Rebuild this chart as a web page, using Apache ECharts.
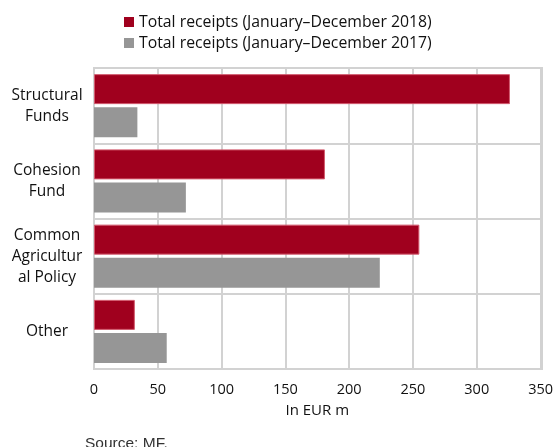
<!DOCTYPE html>
<html>
<head>
<meta charset="utf-8">
<script src="https://cdn.jsdelivr.net/npm/echarts@6/dist/echarts.min.js"></script>
<style>
  html, body { margin: 0; padding: 0; background: #fff; }
  #chart { width: 556px; height: 447px; }
</style>
</head>
<body>
<div id="chart"></div>
<script>
// EU fund receipts by programme, in EUR million
const categories = ['Structural\nFunds', 'Cohesion\nFund', 'Common\nAgricultur\nal Policy', 'Other'];
const receipts2018 = [326, 181, 255, 32];
const receipts2017 = [34, 72, 224, 57];
const seriesNames = ['Total receipts (January\u2013December 2018)', 'Total receipts (January\u2013December 2017)'];
const xTicks = { min: 0, max: 350, interval: 50 };

const RED = '#A0001E';
const GREY = '#969696';
const GRID = '#d2d2d2';

const chart = echarts.init(document.getElementById('chart'), null, { renderer: 'canvas' });
chart.setOption({
  animation: false,
  backgroundColor: '#fff',
  legend: {
    orient: 'vertical',
    left: 119,
    top: 8,
    itemWidth: 10,
    itemHeight: 10,
    itemGap: 3,
    icon: 'rect',
    itemStyle: { borderWidth: 0 },
    textStyle: { fontFamily: 'Open Sans', fontSize: 15.8, lineHeight: 18, color: '#111' },
    data: seriesNames
  },
  grid: { left: 94, right: 14, top: 68, bottom: 78, containLabel: false },
  xAxis: {
    type: 'value',
    min: xTicks.min,
    max: xTicks.max,
    interval: xTicks.interval,
    name: 'In EUR m',
    nameLocation: 'middle',
    nameGap: 34,
    nameTextStyle: { fontFamily: 'Open Sans', fontSize: 15, color: '#111' },
    axisLine: { show: true, lineStyle: { color: GRID, width: 2 } },
    axisTick: { show: false },
    axisLabel: { fontFamily: 'Open Sans', fontSize: 14.5, color: '#111', margin: 13 },
    splitLine: { show: true, lineStyle: { color: GRID, width: 2 } }
  },
  yAxis: {
    type: 'category',
    inverse: true,
    data: categories,
    axisLine: { show: true, lineStyle: { color: GRID, width: 2 } },
    axisTick: { show: false },
    splitLine: { show: true, lineStyle: { color: GRID, width: 2 } },
    axisLabel: {
      fontFamily: 'Open Sans',
      fontSize: 15.5,
      color: '#111',
      align: 'center',
      margin: 47,
      lineHeight: 21
    }
  },
  series: [
    {
      name: seriesNames[0],
      type: 'bar',
      data: receipts2018,
      barWidth: 30,
      barGap: '10%',
      itemStyle: { color: RED, borderColor: '#d25a6e', borderWidth: 1 }
    },
    {
      name: seriesNames[1],
      type: 'bar',
      data: receipts2017,
      barWidth: 30,
      barGap: '10%',
      itemStyle: { color: GREY }
    }
  ],
  graphic: [
    {
      type: 'rect',
      shape: { x: 94, y: 68, width: 448, height: 301 },
      style: { fill: 'none', stroke: GRID, lineWidth: 2 },
      silent: true
    },
    {
      type: 'text',
      left: 85,
      top: 436,
      style: { text: 'Source: MF.', fontFamily: 'Liberation Sans', fontSize: 15.5, fill: '#333' }
    }
  ]
});
</script>
</body>
</html>
